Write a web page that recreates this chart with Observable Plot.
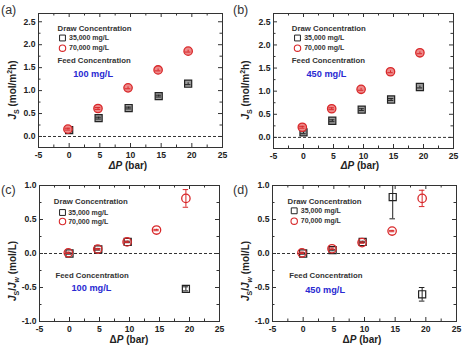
<!DOCTYPE html>
<html>
<head>
<meta charset="utf-8">
<script src="https://cdn.jsdelivr.net/npm/d3@7"></script>
<script src="https://cdn.jsdelivr.net/npm/@observablehq/plot@0.6"></script>
<style>
  body { margin: 0; background: #fff; }
  #chart { position: relative; width: 464px; height: 346px; font-family: "Liberation Sans", Arial, sans-serif; }
  #chart > .panel { position: absolute; width: 232px; height: 173px; }
  #chart svg { overflow: visible; }
</style>
</head>
<body>
<div id="chart"></div>
<script>
// Applied pressure (bar) for each draw concentration
const pressure35 = [0.0, 4.8, 9.7, 14.6, 19.4];
const pressure70 = [-0.2, 4.7, 9.6, 14.5, 19.4];

// (a) reverse salt flux Js, feed 100 mg/L
const fluxA35 = [0.14, 0.40, 0.62, 0.88, 1.15];
const fluxA35Err = [0.02, 0.02, 0.02, 0.02, 0.02];
const fluxA70 = [0.16, 0.61, 1.06, 1.45, 1.86];
const fluxA70Err = [0.02, 0.02, 0.02, 0.02, 0.02];

// (b) reverse salt flux Js, feed 450 mg/L
const fluxB35 = [0.11, 0.36, 0.60, 0.82, 1.09];
const fluxB35Err = [0.03, 0.02, 0.02, 0.02, 0.02];
const fluxB70 = [0.22, 0.62, 1.04, 1.42, 1.83];
const fluxB70Err = [0.02, 0.02, 0.02, 0.02, 0.02];

// (c) specific salt flux Js/Jw, feed 100 mg/L (no 35,000 mg/L point at ~15 bar)
const ratioC35 = [0.00, 0.06, 0.17, null, -0.52];
const ratioC35Err = [0.01, 0.01, 0.01, null, 0.03];
const ratioC70 = [0.01, 0.065, 0.17, 0.345, 0.81];
const ratioC70Err = [0.01, 0.01, 0.01, 0.01, 0.13];

// (d) specific salt flux Js/Jw, feed 450 mg/L
const ratioD35 = [0.00, 0.05, 0.17, 0.83, -0.60];
const ratioD35Err = [0.01, 0.01, 0.01, 0.32, 0.10];
const ratioD70 = [0.01, 0.07, 0.16, 0.33, 0.81];
const ratioD70Err = [0.01, 0.01, 0.01, 0.01, 0.12];

// Axis ticks
const xMajor = [-5, 0, 5, 10, 15, 20, 25];
const xMinor = [-2.5, 2.5, 7.5, 12.5, 17.5, 22.5];
const yMajorFlux = [0, 0.5, 1.0, 1.5, 2.0, 2.5];
const yMinorFlux = [-0.25, 0.25, 0.75, 1.25, 1.75, 2.25];
const yMajorRatio = [-1.0, -0.5, 0, 0.5, 1.0];
const yMinorRatio = [-0.75, -0.25, 0.25, 0.75];

const drawLabels = ["35,000 mg/L", "70,000 mg/L"];
const feedLabels = ["100 mg/L", "450 mg/L"];

const FONT = '"Liberation Sans", Arial, sans-serif';
const INK = "#222";
const RED = "#d8282a";
const BLUE = "#2a2ad2";

function rows(xs, ys, es) {
  return xs.map((x, i) => ({x, y: ys[i], e: es[i]})).filter(d => d.y != null);
}

// Layout of the four panels
const panels = [
  {tag: "(a)", tagY: 13.5, left: 0, top: 0, ml: 38, mr: 10, mt: 13, mb: 26, domain: [-0.24, 2.68],
   yMajor: yMajorFlux, yMinor: yMinorFlux, filled: true, feed: feedLabels[0],
   s35: rows(pressure35, fluxA35, fluxA35Err), s70: rows(pressure70, fluxA70, fluxA70Err),
   ann: {draw: [19, 15], sym: [24, 24.5], lab: 30.5, sym2: 34.7, feedT: [19, 47], feedV: [34.7, 60.3]},
   xTitle: [128, 169], yTitle: [12, 90], kind: "flux", deltaItalic: true},
  {tag: "(b)", tagY: 13.5, left: 232, top: 0, ml: 41, mr: 11, mt: 13, mb: 25, domain: [-0.24, 2.68],
   yMajor: yMajorFlux, yMinor: yMinorFlux, filled: true, feed: feedLabels[1],
   s35: rows(pressure35, fluxB35, fluxB35Err), s70: rows(pressure70, fluxB70, fluxB70Err),
   ann: {draw: [18.3, 15], sym: [24, 24.5], lab: 30.7, sym2: 34.7, feedT: [18.3, 47], feedV: [33, 60.3]},
   xTitle: [128, 169], yTitle: [13.5, 90], kind: "flux", deltaItalic: true},
  {tag: "(c)", tagY: 21, left: 0, top: 173, ml: 39, mr: 13, mt: 12, mb: 25, domain: [-1, 1],
   yMajor: yMajorRatio, yMinor: yMinorRatio, filled: false, feed: feedLabels[0],
   s35: rows(pressure35, ratioC35, ratioC35Err), s70: rows(pressure70, ratioC70, ratioC70Err),
   ann: {draw: [14.3, 16], sym: [23, 27], lab: 28.7, sym2: 36, feedT: [16, 90], feedV: [32, 103]},
   xTitle: [129, 170], yTitle: [12, 98], kind: "ratio", deltaItalic: false},
  {tag: "(d)", tagY: 21, left: 232, top: 173, ml: 40, mr: 8, mt: 12, mb: 25, domain: [-1, 1],
   yMajor: yMajorRatio, yMinor: yMinorRatio, filled: false, feed: feedLabels[1],
   s35: rows(pressure35, ratioD35, ratioD35Err), s70: rows(pressure70, ratioD70, ratioD70Err),
   ann: {draw: [15, 15.7], sym: [21.7, 25.3], lab: 28.3, sym2: 35.7, feedT: [16.7, 89.7], feedV: [32.7, 104.7]},
   xTitle: [130, 170], yTitle: [13.5, 98], kind: "ratio", deltaItalic: false}
];

function errorBars(data, color) {
  return [
    Plot.ruleX(data, {x: "x", y1: d => d.y - d.e, y2: d => d.y + d.e, stroke: color, strokeWidth: 1, clip: true}),
    Plot.ruleY(data.filter(d => d.y + d.e < 1), {y: d => d.y + d.e, x1: d => d.x - 0.45, x2: d => d.x + 0.45, stroke: color, strokeWidth: 1}),
    Plot.ruleY(data, {y: d => d.y - d.e, x1: d => d.x - 0.45, x2: d => d.x + 0.45, stroke: color, strokeWidth: 1})
  ];
}

function buildPanel(p) {
  const W = 232, H = 173;
  const fw = W - p.ml - p.mr, fh = H - p.mt - p.mb;
  const a = p.ann;
  const marks = [
    Plot.ruleY([0], {stroke: "#333", strokeWidth: 1, strokeDasharray: "3,2"}),
    // inward ticks on all four sides
    Plot.tickX(xMajor, {x: d => d, insetTop: fh - 4, stroke: "#333"}),
    Plot.tickX(xMajor, {x: d => d, insetBottom: fh - 4, stroke: "#333"}),
    Plot.tickX(xMinor, {x: d => d, insetTop: fh - 2.5, stroke: "#333"}),
    Plot.tickX(xMinor, {x: d => d, insetBottom: fh - 2.5, stroke: "#333"}),
    Plot.tickY(p.yMajor, {y: d => d, insetRight: fw - 4, stroke: "#333"}),
    Plot.tickY(p.yMajor, {y: d => d, insetLeft: fw - 4, stroke: "#333"}),
    Plot.tickY(p.yMinor.filter(v => v > p.domain[0]), {y: d => d, insetRight: fw - 2.5, stroke: "#333"}),
    Plot.tickY(p.yMinor.filter(v => v > p.domain[0]), {y: d => d, insetLeft: fw - 2.5, stroke: "#333"}),
    Plot.frame({stroke: "#333", strokeWidth: 1}),
    Plot.axisX({ticks: xMajor, tickSize: 0, tickPadding: 4, label: null, tickFormat: d => String(d), fill: INK}),
    Plot.axisY({ticks: p.yMajor, tickSize: 0, tickPadding: 3, label: null, tickFormat: d => d.toFixed(1), fill: INK}),
    // 35,000 mg/L draw solution: squares
    Plot.dot(p.s35, {x: "x", y: "y", symbol: "square", r: 4, stroke: INK, strokeWidth: 1.2, fill: p.filled ? "#9c9c9c" : "none"}),
    ...errorBars(p.s35, INK),
    // 70,000 mg/L draw solution: circles
    Plot.dot(p.s70, {x: "x", y: "y", symbol: "circle", r: 4.2, stroke: RED, strokeWidth: 1.3, fill: p.filled ? "#ee8a8a" : "none"}),
    ...errorBars(p.s70, RED),
    // annotations
    Plot.text(["Draw Concentration"], {frameAnchor: "top-left", dx: a.draw[0], dy: a.draw[1], text: d => d, textAnchor: "start", lineAnchor: "middle", fontSize: 7.8, fill: "#333"}),
    Plot.dot([0], {frameAnchor: "top-left", dx: a.sym[0], dy: a.sym[1], symbol: "square", r: 3.3, stroke: INK, strokeWidth: 1, fill: "none"}),
    Plot.text([drawLabels[0]], {frameAnchor: "top-left", dx: a.lab, dy: a.sym[1], text: d => d, textAnchor: "start", lineAnchor: "middle", fontSize: 7, fill: "#333"}),
    Plot.dot([0], {frameAnchor: "top-left", dx: a.sym[0], dy: a.sym2, symbol: "circle", r: 3.2, stroke: RED, strokeWidth: 1.1, fill: "none"}),
    Plot.text([drawLabels[1]], {frameAnchor: "top-left", dx: a.lab, dy: a.sym2, text: d => d, textAnchor: "start", lineAnchor: "middle", fontSize: 7, fill: "#333"}),
    Plot.text(["Feed Concentration"], {frameAnchor: "top-left", dx: a.feedT[0], dy: a.feedT[1], text: d => d, textAnchor: "start", lineAnchor: "middle", fontSize: 7.8, fill: "#333"}),
    Plot.text([p.feed], {frameAnchor: "top-left", dx: a.feedV[0], dy: a.feedV[1], text: d => d, textAnchor: "start", lineAnchor: "middle", fontSize: 9.2, fill: BLUE})
  ];
  const svg = Plot.plot({
    width: W, height: H,
    marginLeft: p.ml, marginRight: p.mr, marginTop: p.mt, marginBottom: p.mb,
    x: {domain: [-5, 25]},
    y: {domain: p.domain},
    style: {fontFamily: FONT, fontSize: "8.6px", fontWeight: "bold", color: INK, background: "transparent", overflow: "visible"},
    marks
  });

  // axis titles and panel tag
  const g = d3.select(svg).append("g")
    .attr("font-family", FONT).attr("font-weight", "bold").attr("font-size", 10).attr("fill", INK);
  const xt = g.append("text").attr("x", p.xTitle[0]).attr("y", p.xTitle[1]).attr("text-anchor", "middle");
  xt.append("tspan").attr("font-style", p.deltaItalic ? "italic" : "normal").text("Δ");
  xt.append("tspan").attr("font-style", "italic").text("P");
  xt.append("tspan").text(" (bar)");

  const yt = g.append("text")
    .attr("transform", `translate(${p.yTitle[0]},${p.yTitle[1]}) rotate(-90)`)
    .attr("text-anchor", "middle").attr("dy", "0.35em");
  if (p.kind === "flux") {
    yt.append("tspan").attr("font-style", "italic").text("J");
    yt.append("tspan").attr("font-size", 7).attr("dy", 3).text("S");
    yt.append("tspan").attr("dy", -3).text(" (mol/m");
    yt.append("tspan").attr("font-size", 7).attr("dy", -4).text("2");
    yt.append("tspan").attr("dy", 4).text("h)");
  } else {
    yt.append("tspan").attr("font-style", "italic").text("J");
    yt.append("tspan").attr("font-size", 7).attr("dy", 3).text("S");
    yt.append("tspan").attr("dy", -3).text("/");
    yt.append("tspan").attr("font-style", "italic").text("J");
    yt.append("tspan").attr("font-size", 7).attr("font-style", "italic").attr("dy", 3).text("w");
    yt.append("tspan").attr("dy", -3).text(" (mol/L)");
  }

  g.append("text").attr("x", 1).attr("y", p.tagY).attr("text-anchor", "start")
    .attr("font-size", 12.5).attr("font-weight", "normal")
    .attr("fill", "#333").text(p.tag);

  const wrap = document.createElement("div");
  wrap.className = "panel";
  wrap.style.left = p.left + "px";
  wrap.style.top = p.top + "px";
  wrap.appendChild(svg);
  return wrap;
}

const chart = document.getElementById("chart");
for (const p of panels) chart.appendChild(buildPanel(p));
</script>
</body>
</html>
